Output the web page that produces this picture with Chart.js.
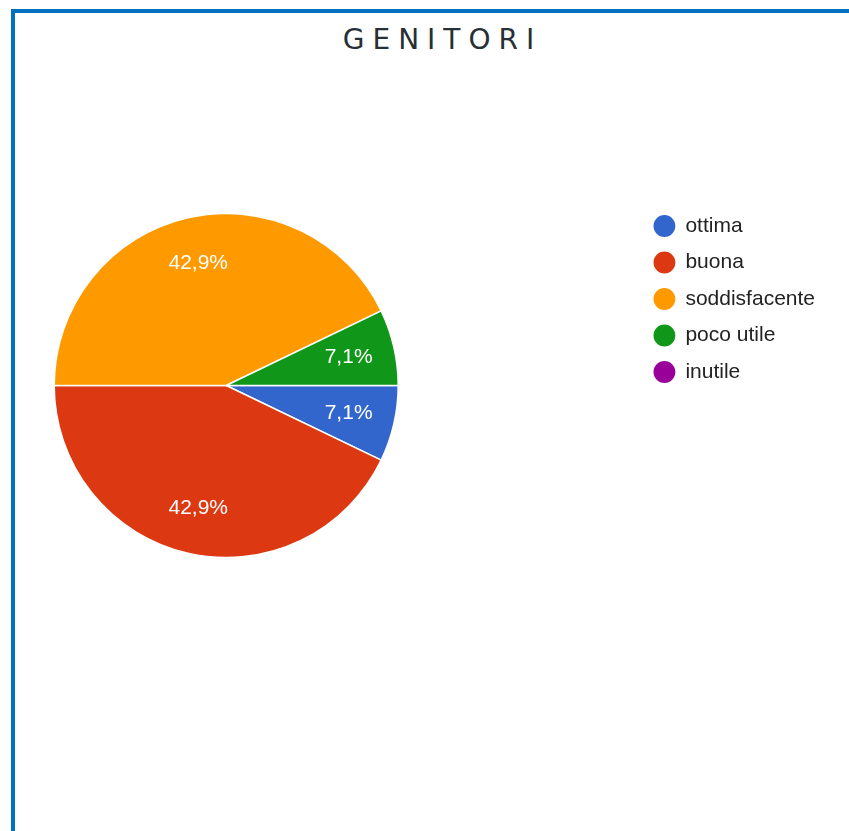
<!DOCTYPE html>
<html>
<head>
<meta charset="utf-8">
<script src="https://cdn.jsdelivr.net/npm/chart.js@4/dist/chart.umd.min.js"></script>
<style>
  html, body { margin: 0; padding: 0; background: #fff; overflow: hidden; }
  body { width: 849px; height: 831px; position: relative; }
  .frame {
    position: absolute; left: 11px; top: 9px; width: 900px; height: 900px;
    border-left: 4px solid #0070c0; border-top: 4px solid #0070c0;
  }
  .title {
    position: absolute; left: 0; top: 23px; width: 849px; padding-left: 18px;
    text-align: center; font-family: "DejaVu Sans", sans-serif; font-size: 28px;
    letter-spacing: 8px; color: #273034;
  }
  .wrap { position: absolute; left: -186px; top: 0; width: 1035px; height: 831px; }
</style>
</head>
<body>
<div class="frame"></div>
<div class="title">GENITORI</div>
<div class="wrap"><canvas id="pie"></canvas></div>
<script>
const categories = ["ottima", "buona", "soddisfacente", "poco utile", "inutile"];
const answers = [1, 6, 6, 1, 0];
const sliceColors = ["#3366cc", "#dc3912", "#ff9900", "#109618", "#990099"];

// percentage labels inside the slices, google-forms style
const sliceLabels = {
  id: "sliceLabels",
  afterDatasetsDraw(chart) {
    const ctx = chart.ctx;
    const meta = chart.getDatasetMeta(0);
    const data = chart.data.datasets[0].data;
    const total = data.reduce((a, b) => a + b, 0);
    ctx.save();
    ctx.fillStyle = "#ffffff";
    ctx.font = "21px 'Liberation Sans', Arial, sans-serif";
    ctx.textAlign = "center";
    ctx.textBaseline = "middle";
    meta.data.forEach((arc, i) => {
      if (!data[i]) return;
      const p = arc.getProps(["x", "y", "startAngle", "endAngle", "outerRadius"], true);
      const mid = (p.startAngle + p.endAngle) / 2;
      const r = p.outerRadius * 0.73;
      const txt = (data[i] / total * 100).toFixed(1).replace(".", ",") + "%";
      ctx.fillText(txt, p.x + Math.cos(mid) * r, p.y + Math.sin(mid) * r);
    });
    ctx.restore();
  },
};

new Chart(document.getElementById("pie").getContext("2d"), {
  type: "pie",
  data: {
    labels: categories,
    datasets: [
      {
        data: answers,
        backgroundColor: sliceColors,
        borderColor: "#ffffff",
        borderWidth: 1.5,
        radius: 172,
      },
    ],
  },
  options: {
    responsive: true,
    maintainAspectRatio: false,
    animation: false,
    rotation: 90,
    events: [],
    layout: { padding: { top: 200, bottom: 260, left: 0, right: 24 } },
    plugins: {
      tooltip: { enabled: false },
      legend: {
        position: "right",
        align: "start",
        labels: {
          usePointStyle: true,
          pointStyle: "circle",
          boxWidth: 21,
          boxHeight: 16.5,
          padding: 15.5,
          color: "#222222",
          font: { family: "'Liberation Sans', Arial, sans-serif", size: 21 },
        },
      },
    },
  },
  plugins: [sliceLabels],
});
</script>
</body>
</html>
